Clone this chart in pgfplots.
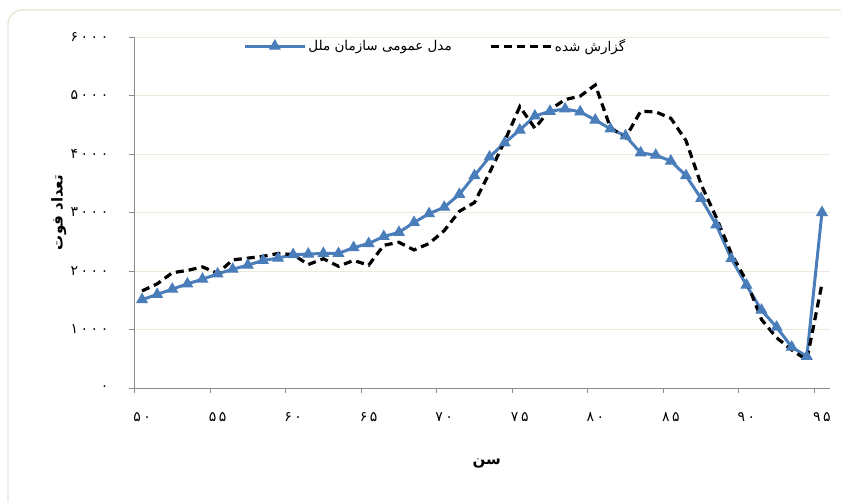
\documentclass[border=0pt]{standalone}
\usepackage{fontspec}
\usepackage{pgfplots}
\usepackage{pgfplotstable}
\pgfplotsset{compat=1.18}
\TeXXeTstate=1
\setmainfont{DejaVu Sans}
\newfontfamily\fa[Script=Arabic]{DejaVu Sans}
\newfontfamily\fanum[Script=Arabic, LetterSpace=18]{DejaVu Sans}

\definecolor{unblue}{RGB}{74,126,187}
\definecolor{gridc}{RGB}{234,235,218}
\definecolor{framec}{RGB}{228,232,210}
\definecolor{axisc}{RGB}{140,140,140}

% age, UN general model, reported deaths
\pgfplotstableread{
age model reported
50 1510 1660
51 1600 1780
52 1690 1970
53 1780 2010
54 1860 2070
55 1950 1960
56 2030 2190
57 2100 2220
58 2180 2250
59 2220 2300
60 2280 2280
61 2290 2110
62 2300 2210
63 2300 2080
64 2400 2180
65 2470 2100
66 2590 2440
67 2660 2490
68 2830 2360
69 2980 2470
70 3090 2690
71 3310 3020
72 3630 3170
73 3950 3680
74 4190 4220
75 4410 4810
76 4650 4440
77 4730 4760
78 4770 4930
79 4720 4990
80 4580 5180
81 4430 4450
82 4310 4280
83 4020 4730
84 3980 4720
85 3880 4610
86 3630 4230
87 3240 3480
88 2790 2920
89 2210 2300
90 1760 1830
91 1330 1170
92 1040 860
93 700 650
94 540 480
95 3000 1780
}\deaths

\begin{document}
\begin{tikzpicture}[x=1pt,y=1pt]
\path[use as bounding box] (0,0) rectangle (841,501);
\draw[framec, line width=1.3pt, rounded corners=14pt] (8,-40) -- (8,491) -- (880,491);
\begin{axis}[
    at={(134.5pt,113pt)}, anchor=south west,
    scale only axis, width=695pt, height=351pt,
    xmin=49.5, xmax=95.5, ymin=0, ymax=6000,
    axis x line*=bottom, axis y line*=left,
    axis line style={-, axisc, line width=0.8pt},
    xtick={50,55,...,95},
    xticklabels={۵۰,۵۵,۶۰,۶۵,۷۰,۷۵,۸۰,۸۵,۹۰,۹۵},
    minor xtick={49.5,54.5,...,94.5},
    ytick={0,1000,...,6000},
    yticklabels={۰,۱۰۰۰,۲۰۰۰,۳۰۰۰,۴۰۰۰,۵۰۰۰,۶۰۰۰},
    tick align=outside,
    major tick length=5pt, minor tick length=5pt,
    tick style={axisc, line width=0.8pt},
    major x tick style={draw=none},
    ymajorgrids,
    major grid style={gridc, line width=1pt},
    xticklabel style={font=\fanum\fontsize{14}{14}\selectfont, anchor=center, inner sep=0pt, yshift=-24pt},
    yticklabel style={font=\fanum\fontsize{14}{14}\selectfont, anchor=east, inner sep=0pt, xshift=-21pt},
    xlabel={\beginR سن\endR},
    ylabel={\beginR تعداد فوت\endR},
    xlabel style={font=\fa\bfseries\fontsize{15}{15}\selectfont, at={(axis description cs:0.507,-0.214)}, anchor=center},
    ylabel style={font=\fa\bfseries\fontsize{15}{15}\selectfont, at={(axis description cs:-0.109,0.5)}, anchor=center},
    legend style={at={(0.152,0.974)}, anchor=west, draw=none, fill=none,
        legend columns=2, font=\fa\fontsize{13.5}{13.5}\selectfont,
        /tikz/every even column/.append style={column sep=36pt}},
    legend image code/.code={\draw[mark repeat=2, mark phase=2, #1] plot coordinates {(0pt,0pt) (30pt,0pt) (60pt,0pt)};},
]
\addplot[unblue, line width=3pt, mark=triangle*, mark size=6pt, mark options={solid, line width=1pt}]
    table[x=age, y=model]{\deaths};
\addlegendentry{\beginR مدل عمومی سازمان ملل\endR}
\addplot[black, line width=3.2pt, dash pattern=on 8pt off 5pt]
    table[x=age, y=reported]{\deaths};
\addlegendentry{\beginR گزارش شده\endR}
\end{axis}
\end{tikzpicture}
\end{document}
